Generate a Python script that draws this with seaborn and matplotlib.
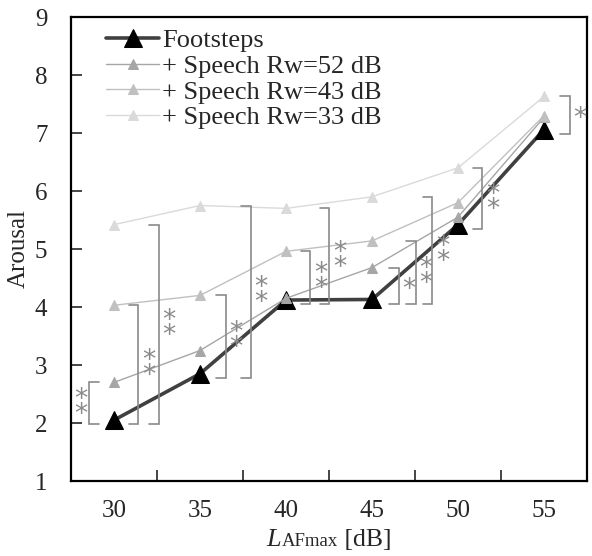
import matplotlib
matplotlib.use("Agg")
import matplotlib.pyplot as plt
from matplotlib.offsetbox import TextArea, HPacker, AnchoredOffsetbox
import seaborn as sns
import pandas as pd
import numpy as np

# ---- data ----
categories = ["30", "35", "40", "45", "50", "55"]
footsteps = [2.05, 2.85, 4.12, 4.13, 5.42, 7.06]
rw52 = [2.70, 3.25, 4.15, 4.68, 5.55, 7.27]
rw43 = [4.03, 4.20, 4.96, 5.14, 5.80, 7.30]
rw33 = [5.42, 5.75, 5.70, 5.90, 6.40, 7.63]
series_names = ["Footsteps", "+ Speech Rw=52 dB", "+ Speech Rw=43 dB", "+ Speech Rw=33 dB"]

# significance brackets: category index, compared series, label
br_cat = [0, 0, 0, 1, 1, 2, 2, 3, 3, 3, 4, 5]
br_series = ["+ Speech Rw=52 dB", "+ Speech Rw=43 dB", "+ Speech Rw=33 dB",
             "+ Speech Rw=43 dB", "+ Speech Rw=33 dB",
             "+ Speech Rw=43 dB", "+ Speech Rw=33 dB",
             "+ Speech Rw=52 dB", "+ Speech Rw=43 dB", "+ Speech Rw=33 dB",
             "+ Speech Rw=33 dB", "+ Speech Rw=33 dB"]
br_label = ["**", "**", "**", "**", "**", "**", "**", "*", "**", "**", "**", "*"]
br_offset = [-0.29, 0.28, 0.52, 0.30, 0.59, 0.28, 0.50, 0.31, 0.51, 0.70, 0.28, 0.30]

values = {series_names[0]: footsteps, series_names[1]: rw52,
          series_names[2]: rw43, series_names[3]: rw33}
rows = []
for name in series_names:
    for i, v in enumerate(values[name]):
        rows.append({"pos": i, "value": v, "series": name})
df = pd.DataFrame(rows)

sns.set_style("ticks")
plt.rcParams["font.family"] = ["Liberation Serif", "DejaVu Serif"]

FS = 19
TFS = 18
fig = plt.figure(figsize=(5.92, 5.56), dpi=100)
ax = fig.add_axes([0.12, 75 / 556, 0.8716, 464 / 556])

styles = {
    series_names[0]: dict(color="#404040", lw=2.6, ms=13, mfc="black", mec="black"),
    series_names[1]: dict(color="#a6a6a6", lw=1.0, ms=7, mfc="#a6a6a6", mec="#a6a6a6"),
    series_names[2]: dict(color="#c0c0c0", lw=1.0, ms=7, mfc="#c0c0c0", mec="#c0c0c0"),
    series_names[3]: dict(color="#dadada", lw=1.0, ms=7, mfc="#dadada", mec="#dadada"),
}
for name in series_names:
    st = styles[name]
    sns.lineplot(data=df[df["series"] == name], x="pos", y="value", ax=ax,
                 color=st["color"], linewidth=st["lw"], marker="^",
                 markersize=st["ms"], markerfacecolor=st["mfc"],
                 markeredgecolor=st["mec"], label=name)

# brackets
bcol = "#8a8a8a"
serif = 0.11
for c, s, lab, off in zip(br_cat, br_series, br_label, br_offset):
    lo = footsteps[c] - 0.07
    hi = values[s][c]
    x = c + off
    d = -serif if off > 0 else serif
    ax.plot([x + d, x, x, x + d], [lo, lo, hi, hi], color=bcol, lw=1.2,
            solid_joinstyle="miter")
    mid = (lo + hi) / 2
    dx = 7.5 if off > 0 else -6
    txt = "\n".join(list(lab))
    ax.annotate(txt, xy=(x, mid), xytext=(dx, -3), textcoords="offset points",
                ha="center", va="center", color=bcol, fontsize=19,
                linespacing=0.45, family="DejaVu Sans")

ax.set_xlim(-0.5, 5.5)
ax.set_ylim(1, 9)
ax.set_xticks(range(len(categories)))
ax.set_xticklabels(categories)
ax.set_xticks(np.arange(0.5, len(categories) - 0.5, 1), minor=True)
ax.tick_params(axis="x", which="major", length=0, pad=14, labelsize=TFS)
ax.tick_params(axis="x", which="minor", length=8, direction="in", width=1.2)
ax.set_yticks(range(1, 10))
ax.tick_params(axis="y", which="major", length=8, direction="in", width=1.2,
               pad=17, labelsize=TFS)
for sp in ax.spines.values():
    sp.set_visible(True)
    sp.set_linewidth(1.6)
    sp.set_color("black")

ax.set_ylabel("Arousal", fontsize=TFS, labelpad=4)
ax.set_xlabel("")

# x label: italic L + small "AFmax" on the baseline + [dB]
t1 = TextArea("L", textprops=dict(fontsize=FS, fontstyle="italic", family="Liberation Serif"))
t2 = TextArea("AFmax", textprops=dict(fontsize=13.5, family="Liberation Serif"))
t3 = TextArea(" [dB]", textprops=dict(fontsize=FS - 0.5, family="Liberation Serif"))
box = HPacker(children=[t1, t2, t3], align="baseline", pad=0, sep=0)
anch = AnchoredOffsetbox(loc="lower center", child=box, pad=0, borderpad=0, frameon=False,
                         bbox_to_anchor=(0.5 * (71 + 587) / 592, 5 / 556),
                         bbox_transform=fig.transFigure)
fig.add_artist(anch)

leg = ax.legend(loc="upper left", bbox_to_anchor=(0.045, 1.0), frameon=False,
                fontsize=FS, handlelength=2.0, handletextpad=0.12,
                labelspacing=0.08, borderaxespad=0.05)

fig.savefig("out.png", dpi=100)
